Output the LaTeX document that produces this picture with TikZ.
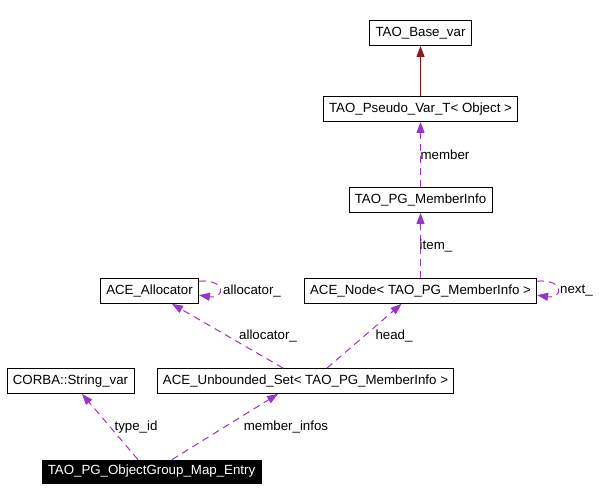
\documentclass[tikz,border=0pt]{standalone}
\usepackage{fontspec}
\setmainfont{Liberation Sans}
\usetikzlibrary{arrows.meta}
\definecolor{usecol}{RGB}{154,50,205}
\definecolor{inhcol}{RGB}{139,26,26}

\begin{document}
\begin{tikzpicture}[
	x=1pt,y=-1pt,
	cls/.style={draw,rectangle,line width=0.8pt,inner xsep=5.8pt,inner ysep=0pt,minimum height=25pt,font=\fontsize{13.3}{15}\selectfont},
	lbl/.style={inner sep=0pt,font=\fontsize{13.3}{15}\selectfont},
	use/.style={draw=usecol,line width=1pt,dash pattern=on 7pt off 5pt,-{Triangle[length=11pt,width=8pt]}},
	inh/.style={draw=inhcol,line width=1pt,-{Triangle[length=11pt,width=8pt]}}
	]
	\useasboundingbox (0,0) rectangle (599,502);
	
	\node[cls] (base) at (420.5,33) {TAO\_Base\_var};
	\node[cls] (pseudo) at (420.5,109) {TAO\_Pseudo\_Var\_T< Object >};
	\node[cls] (minfo) at (420.5,200) {TAO\_PG\_MemberInfo};
	\node[cls] (acenode) at (420.5,291) {ACE\_Node< TAO\_PG\_MemberInfo >};
	\node[cls] (alloc) at (149.5,291) {ACE\_Allocator};
	\node[cls] (corba) at (70.5,381) {CORBA::String\_var};
	\node[cls] (uset) at (305.5,381) {ACE\_Unbounded\_Set< TAO\_PG\_MemberInfo >};
	\node[cls,fill=black,text=white,minimum height=23pt] (entry) at (151.5,471.5) {TAO\_PG\_ObjectGroup\_Map\_Entry};
	
	\draw[inh] (pseudo) -- (base);
	\draw[use] (minfo) -- (pseudo); \node[lbl] (lmember) at (445,155) {member};
	\draw[use] (acenode) -- (minfo); \node[lbl] (litem) at (436,246) {item\_};
	\draw[use] ([yshift=-3pt]acenode.north east) .. controls +(28,-2) and +(26,4) .. ([yshift=-17pt]acenode.north east);
	\node[lbl,anchor=west] (lnext) at (560,291) {next\_};
	\draw[use] ([yshift=-3pt]alloc.north east) .. controls +(28,-2) and +(26,4) .. ([yshift=-17pt]alloc.north east);
	\node[lbl,anchor=west] (lallocself) at (223,291) {allocator\_};
	\draw[use] ([xshift=-22.5pt]uset.north) -- ([xshift=22.5pt]alloc.south); \node[lbl] (lalloc) at (268,336) {allocator\_};
	\draw[use] ([xshift=21.5pt]uset.north) -- ([xshift=-19pt]acenode.south); \node[lbl] (lhead) at (394,336) {head\_};
	\draw[use] ([xshift=-13.5pt]entry.north) -- ([xshift=11.5pt]corba.south); \node[lbl] (ltype) at (136,427) {type\_id};
	\draw[use] ([xshift=20.5pt]entry.north) -- ([xshift=-27.5pt]uset.south); \node[lbl] (linfos) at (286,427) {member\_infos};
\end{tikzpicture}
\end{document}
